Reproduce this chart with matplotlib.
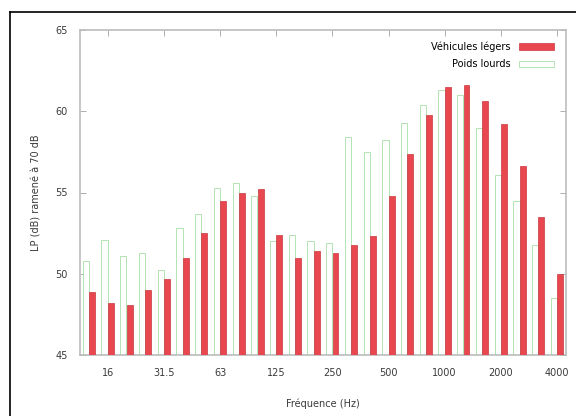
import numpy as np
import matplotlib
matplotlib.use("Agg")
import matplotlib.pyplot as plt
from matplotlib.transforms import ScaledTranslation

# Tiers d'octave de 12,5 Hz à 4000 Hz
bandes = ["12.5", "16", "20", "25", "31.5", "40", "50", "63", "80", "100",
          "125", "160", "200", "250", "315", "400", "500", "630", "800",
          "1000", "1250", "1600", "2000", "2500", "3150", "4000"]

vl = [48.9, 48.2, 48.1, 49.0, 49.7, 51.0, 52.5, 54.5, 55.0, 55.2,
      52.4, 51.0, 51.4, 51.3, 51.8, 52.3, 54.8, 57.4, 59.8,
      61.5, 61.6, 60.6, 59.2, 56.6, 53.5, 50.0]

pl = [50.8, 52.1, 51.1, 51.3, 50.2, 52.8, 53.7, 55.3, 55.6, 54.8,
      52.0, 52.4, 52.0, 51.9, 58.4, 57.5, 58.2, 59.3, 60.4,
      61.3, 61.0, 59.0, 56.1, 54.5, 51.8, 48.5]

etiquettes = ["16", "31.5", "63", "125", "250", "500", "1000", "2000", "4000"]

rouge = "#e8474f"
vert = "#a6dea6"

fig = plt.figure(figsize=(5.76, 4.16), dpi=100)
ax = fig.add_axes([80 / 576, 1 - 355 / 416, 486 / 576, 325 / 416])

x = np.arange(len(bandes))
w = 1 / 3
ax.bar(x - w / 2, np.array(pl) - 45, w, bottom=45, facecolor="white",
       edgecolor=vert, linewidth=0.6, label="Poids lourds", zorder=2)
ax.bar(x + w / 2, np.array(vl) - 45, w * 0.95, bottom=45, facecolor=rouge,
       edgecolor="#c8383e", linewidth=0.5, label="Véhicules légers", zorder=3)

ax.set_xlim(-0.48, 25.48)
ax.set_ylim(45, 65)
ax.set_yticks([45, 50, 55, 60, 65])

pos = [bandes.index(e) for e in etiquettes]
ax.set_xticks(pos)
ax.set_xticklabels(etiquettes)
decal = ScaledTranslation(4 / 100, 0, fig.dpi_scale_trans)
for t in ax.get_xticklabels():
    t.set_transform(t.get_transform() + decal)

ax.tick_params(axis="both", direction="in", labelsize=7, length=4,
               width=0.6, color="#a0a0a0", top=True, right=True,
               labelcolor="#3a3a3a")
ax.tick_params(axis="x", pad=9)
ax.tick_params(axis="y", pad=9)
for s in ax.spines.values():
    s.set_color("#bcbcbc")
    s.set_linewidth(1.2)

ax.set_xlabel("Fréquence (Hz)", fontsize=7, color="#3a3a3a", labelpad=15)
ax.set_ylabel("LP (dB) ramené à 70 dB", fontsize=7, color="#3a3a3a", labelpad=10)

h, l = ax.get_legend_handles_labels()
ax.legend(h[::-1], l[::-1], loc="upper right", frameon=False, fontsize=7,
          markerfirst=False, handlelength=3.6, handleheight=0.7,
          labelspacing=0.75, borderaxespad=0.8, handletextpad=0.9)

# cadre extérieur
fig.add_artist(plt.Line2D([10 / 576, 10 / 576], [0, 1 - 12 / 416],
                          transform=fig.transFigure, color="black", lw=1.2))
fig.add_artist(plt.Line2D([10 / 576, 1], [1 - 12 / 416, 1 - 12 / 416],
                          transform=fig.transFigure, color="black", lw=1.2))

fig.savefig("out.png", dpi=100)
